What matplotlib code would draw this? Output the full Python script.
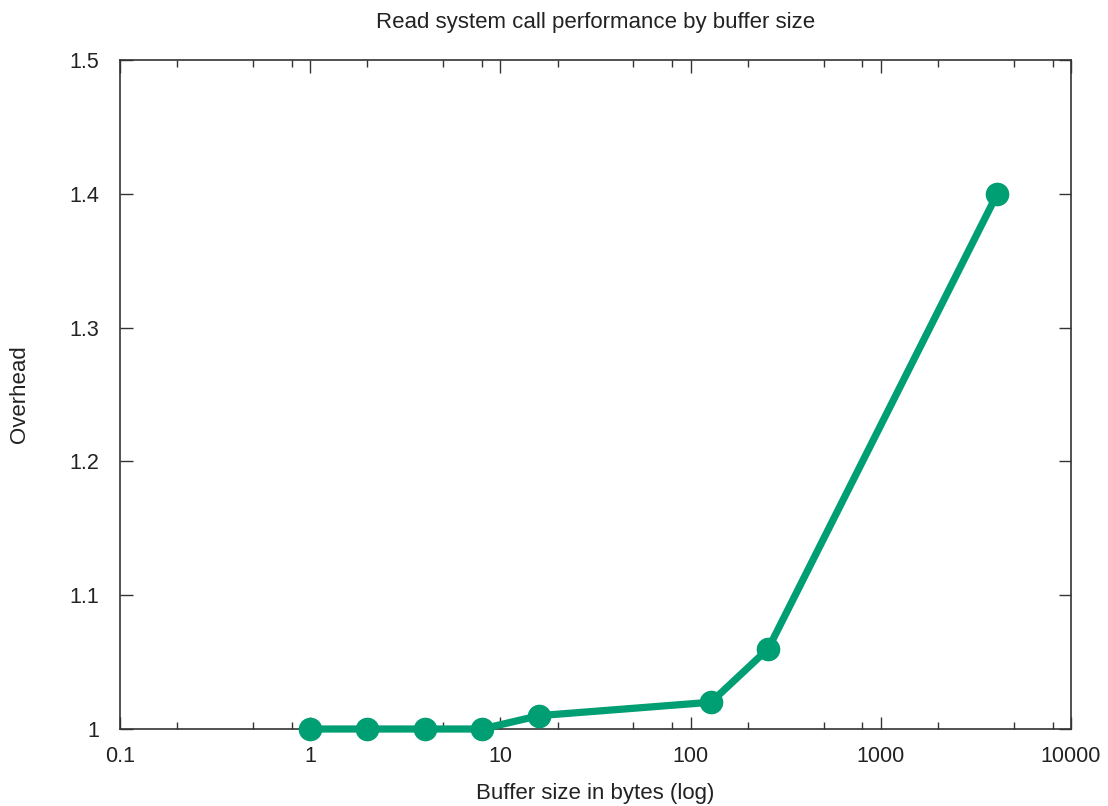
import matplotlib
matplotlib.use('Agg')
import matplotlib.pyplot as plt
from matplotlib.ticker import LogLocator, FixedLocator, NullFormatter, FixedFormatter

plt.rcParams['font.family'] = ['Liberation Sans', 'DejaVu Sans']

# buffer size (bytes) and measured overhead
buffer_sizes = [1, 2, 4, 8, 16, 128, 256, 4096]
overhead = [1.0, 1.0, 1.0, 1.0, 1.01, 1.02, 1.06, 1.4]

x_ticks = [0.1, 1, 10, 100, 1000, 10000]
x_tick_labels = ['0.1', '1', '10', '100', '1000', '10000']
y_ticks = [1.0, 1.1, 1.2, 1.3, 1.4, 1.5]
y_tick_labels = ['1', '1.1', '1.2', '1.3', '1.4', '1.5']

fig = plt.figure(figsize=(11.08, 8.06), dpi=100)
ax = fig.add_axes([120 / 1108, 77 / 806, 951 / 1108, 669 / 806])

ax.plot(buffer_sizes, overhead, color='#009e73', linewidth=5.2,
        marker='o', markersize=16, solid_joinstyle='round', clip_on=False, zorder=3)

ax.set_xscale('log')
ax.set_xlim(0.1, 10000)
ax.set_ylim(1.0, 1.5)

ax.xaxis.set_major_locator(FixedLocator(x_ticks))
ax.xaxis.set_major_formatter(FixedFormatter(x_tick_labels))
ax.xaxis.set_minor_locator(LogLocator(base=10, subs=(2, 5, 8)))
ax.xaxis.set_minor_formatter(NullFormatter())
ax.yaxis.set_major_locator(FixedLocator(y_ticks))
ax.yaxis.set_major_formatter(FixedFormatter(y_tick_labels))

ax.tick_params(which='both', direction='in', top=True, right=True, width=1.0,
               labelsize=15.5, colors='#333333', labelcolor='#222222')
ax.tick_params(which='major', length=9)
ax.tick_params(which='minor', length=5)
ax.tick_params(axis='x', which='major', pad=12.5)
ax.tick_params(axis='y', which='major', pad=15)

for s in ax.spines.values():
    s.set_linewidth(1.2)
    s.set_color('#333333')

ax.set_title('Read system call performance by buffer size', fontsize=16, pad=23, color='#222222')
ax.set_xlabel('Buffer size in bytes (log)', fontsize=16, color='#222222')
ax.set_ylabel('Overhead', fontsize=16, color='#222222')
ax.xaxis.label.set_va('center')
ax.xaxis.set_label_coords(0.5, -64 / 669)
ax.yaxis.label.set_va('center')
ax.yaxis.set_label_coords(-100 / 951, 0.5)

fig.savefig('out.png', dpi=100)
